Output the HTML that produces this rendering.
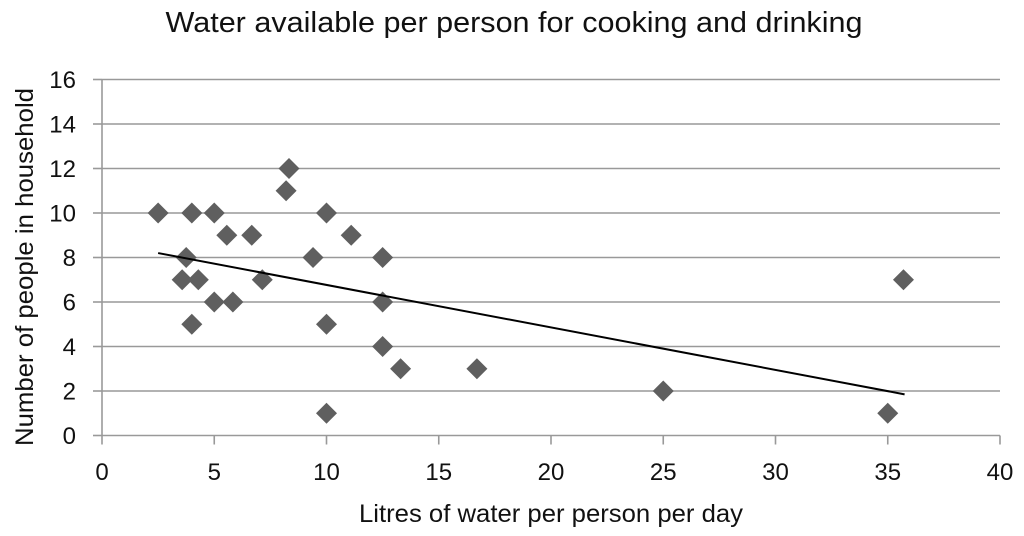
<!DOCTYPE html>
<html>
<head>
<meta charset="utf-8">
<style>
html,body{margin:0;padding:0;background:#fff;width:1024px;height:536px;overflow:hidden}
svg{display:block}
text{font-family:"Liberation Sans",sans-serif;fill:#111}
</style>
</head>
<body>
<svg id="chart" width="1024" height="536" viewBox="0 0 1024 536" xmlns="http://www.w3.org/2000/svg">
<text x="514" y="32" font-size="29" text-anchor="middle" textLength="697" lengthAdjust="spacingAndGlyphs">Water available per person for cooking and drinking</text>
<text x="551" y="522" font-size="25" text-anchor="middle" textLength="384" lengthAdjust="spacingAndGlyphs">Litres of water per person per day</text>
<text transform="translate(33,267) rotate(-90)" font-size="25" text-anchor="middle" textLength="358" lengthAdjust="spacingAndGlyphs">Number of people in household</text>
<g id="grid"></g>
<g id="axes"></g>
<g id="points"></g>
<g id="trend"></g>
</svg>
<script>
const xTicks = [0, 5, 10, 15, 20, 25, 30, 35, 40];
const yTicks = [0, 2, 4, 6, 8, 10, 12, 14, 16];
const litres = [2.5, 4, 5, 5.56, 6.67, 3.75, 3.57, 4.29, 5, 5.83, 4, 7.14, 8.2, 8.33, 10, 11.1, 9.4, 12.5, 12.5, 10, 12.5, 13.3, 10, 16.7, 25, 35, 35.7];
const people = [10, 10, 10, 9, 9, 8, 7, 7, 6, 6, 5, 7, 11, 12, 10, 9, 8, 8, 6, 5, 4, 3, 1, 3, 2, 1, 7];
const trendLitres = [2.5, 35.75];
const trendPeople = [8.2, 1.85];

const NS = 'http://www.w3.org/2000/svg';
const AXIS_COLOR = '#999999';
const x = v => 102 + v * (1000 - 102) / 40;
const y = v => 435.5 - v * (435.5 - 79.5) / 16;
function make(tag, parent, attrs) {
  const el = document.createElementNS(NS, tag);
  for (const k in attrs) el.setAttribute(k, attrs[k]);
  parent.appendChild(el);
  return el;
}
const grid = document.getElementById('grid');
const axes = document.getElementById('axes');
const points = document.getElementById('points');
const trend = document.getElementById('trend');

yTicks.forEach(t => {
  if (t !== 0) {
    const g = make('line', grid, {x1: x(0), x2: x(40), y1: y(t), y2: y(t), stroke: AXIS_COLOR, 'stroke-width': 1.6});
    
    
  }
  const m = make('line', axes, {x1: x(0) - 9, x2: x(0), y1: y(t), y2: y(t), stroke: AXIS_COLOR, 'stroke-width': 1.6});
  
  
  const l = make('text', axes, {x: 76, y: y(t) + 8.5, 'font-size': 24, 'text-anchor': 'end'});
  
  
  l.textContent = t;
});
xTicks.forEach(t => {
  const m = make('line', axes, {x1: x(t), x2: x(t), y1: y(0), y2: y(0) + 9, stroke: AXIS_COLOR, 'stroke-width': 1.6});
  
  
  const l = make('text', axes, {x: x(t), y: 480, 'font-size': 24, 'text-anchor': 'middle'});
  
  
  l.textContent = t;
});
const xAxis = make('line', axes, {x1: x(0), x2: x(40), y1: y(0), y2: y(0), stroke: AXIS_COLOR, 'stroke-width': 1.6});


const yAxis = make('line', axes, {x1: x(0), x2: x(0), y1: y(0), y2: y(16), stroke: AXIS_COLOR, 'stroke-width': 1.6});



litres.forEach((v, i) => {
  const cx = x(v), cy = y(people[i]), r = 10.5;
  const p = make('polygon', points, {points: `${cx},${cy - r} ${cx + r},${cy} ${cx},${cy + r} ${cx - r},${cy}`, fill: '#5f5f5f'});
  
  
});
const tl = make('line', trend, {x1: x(trendLitres[0]), y1: y(trendPeople[0]), x2: x(trendLitres[1]), y2: y(trendPeople[1]), stroke: '#000', 'stroke-width': 2});


</script>
</body>
</html>
